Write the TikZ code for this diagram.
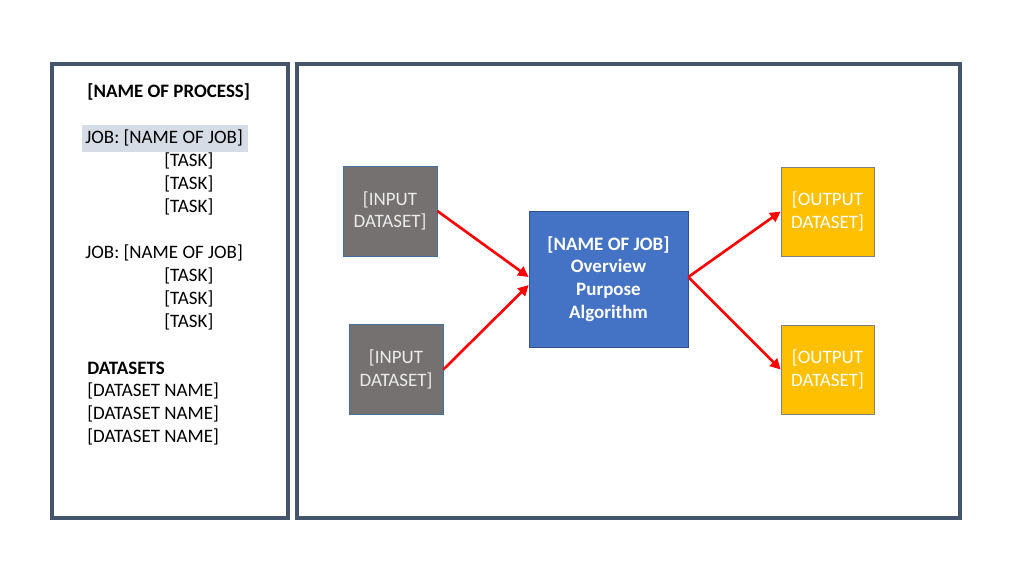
\documentclass[tikz,border=0pt]{standalone}
\usepackage{fontspec}
\setmainfont{Carlito}
\usetikzlibrary{arrows.meta}
\definecolor{panelline}{HTML}{44546A}
\definecolor{jobhl}{HTML}{D6DCE5}
\definecolor{inputfill}{HTML}{767171}
\definecolor{jobfill}{HTML}{4472C4}
\definecolor{jobline}{HTML}{2F528F}
\definecolor{outputfill}{HTML}{FFC000}
\definecolor{boxline}{HTML}{41719C}
\tikzset{
  panel/.style={draw=panelline,line width=2.5pt},
  listtext/.style={anchor=west,inner sep=0pt,font=\fontsize{10.8}{13}\selectfont},
  inbox/.style={draw=boxline,fill=inputfill,text=white!92!black,minimum width=1.88cm,
    minimum height=1.8cm,align=center,font=\fontsize{10.8}{13}\selectfont},
  outbox/.style={draw=gray,fill=outputfill,text=white,minimum width=1.86cm,
    minimum height=1.78cm,align=center,font=\fontsize{10.8}{13}\selectfont},
  jobbox/.style={draw=jobline,fill=jobfill,text=white,minimum width=3.18cm,
    minimum height=2.72cm,align=center,font=\bfseries\fontsize{10.8}{13}\selectfont},
  flow/.style={draw=red,line width=1.5pt,-{Triangle[length=6pt,width=6pt]}}
}
\begin{document}
\begin{tikzpicture}[x=0.02cm,y=-0.02cm]
  \useasboundingbox (0,0) rectangle (1024,576);
  % panels
  \draw[panel] (52,64) rectangle (288,518);
  \draw[panel] (297,64) rectangle (960,518);
  % left list
  \fill[jobhl] (82,125) rectangle (248,152);
  \node[listtext,font=\bfseries\fontsize{10.8}{13}\selectfont] (proc) at (87,92) {[NAME OF PROCESS]};
  \node[listtext] (job1) at (85,138) {JOB: [NAME OF JOB]};
  \foreach \y/\n in {161/1,184/2,207/3}
    \node[listtext] (taska\n) at (164,\y) {[TASK]};
  \node[listtext] (job2) at (85,253) {JOB: [NAME OF JOB]};
  \foreach \y/\n in {276/1,299/2,322/3}
    \node[listtext] (taskb\n) at (164,\y) {[TASK]};
  \node[listtext,font=\bfseries\fontsize{10.8}{13}\selectfont] (dsets) at (87,368) {DATASETS};
  \foreach \y/\n in {391/1,414/2,437/3}
    \node[listtext] (dsname\n) at (87,\y) {[DATASET NAME]};
  % flow
  \node[inbox] (in1) at (390,211) {[INPUT\\DATASET]};
  \node[inbox] (in2) at (396,369.5) {[INPUT\\DATASET]};
  \node[jobbox] (job) at (608.5,279) {[NAME OF JOB]\\Overview\\Purpose\\Algorithm};
  \node[outbox] (out1) at (827.5,211.5) {[OUTPUT\\DATASET]};
  \node[outbox] (out2) at (827.5,369.5) {[OUTPUT\\DATASET]};
  \draw[flow] (in1.east) -- ([yshift=0.04cm]job.west);
  \draw[flow] (in2.east) -- ([yshift=-0.12cm]job.west);
  \draw[flow] ([yshift=0.04cm]job.east) -- (out1.west);
  \draw[flow] ([yshift=0.04cm]job.east) -- (out2.west);
\end{tikzpicture}
\end{document}
